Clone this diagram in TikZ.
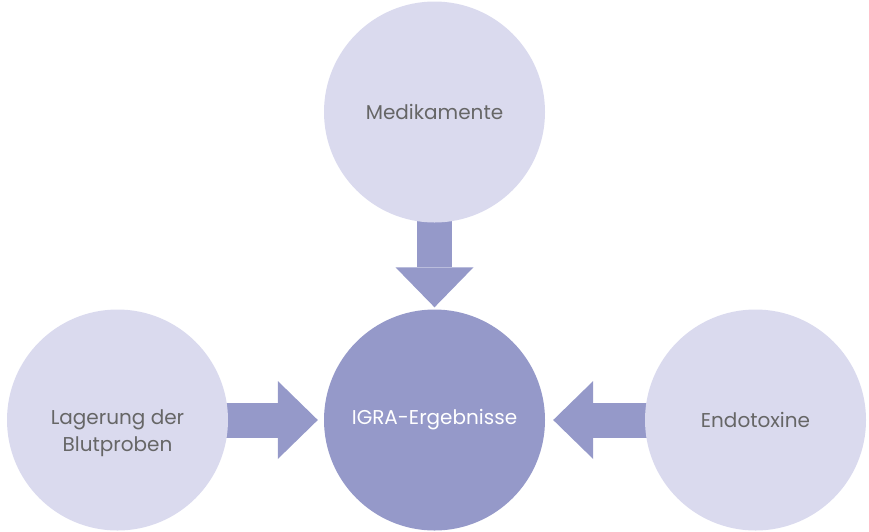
\documentclass[tikz,border=0pt]{standalone}
\usepackage{fontspec}
\setmainfont{Poppins}
\usetikzlibrary{arrows.meta, backgrounds}
\definecolor{paleviolet}{HTML}{DADAEE}
\definecolor{deepviolet}{HTML}{9599C9}
\definecolor{labelgray}{HTML}{666666}

\begin{document}
\begin{tikzpicture}[x=1pt, y=-1pt,
    factor/.style={circle, fill=paleviolet, minimum size=221pt, inner sep=0pt,
        text=labelgray, font=\fontsize{20}{27}\selectfont, align=center},
    result/.style={factor, fill=deepviolet, text=white},
    bigarrow/.style={deepviolet, line width=35pt,
        -{Triangle[length=40pt, width=78pt, line width=0pt]}}]
        % fix the page size
        \useasboundingbox (0,0) rectangle (869,531);

        % Influencing factors and the result
        \node[result] (igra) at (434.5, 420) {IGRA-Ergebnisse};
        \node[factor] (medi) at (434.5, 112) {Medikamente};
        \node[factor] (endo) at (755.5, 420) {Endotoxine};
        \node[factor, label={[text=labelgray, font=\fontsize{20}{27}\selectfont,
            align=center, yshift=-13pt]center:Lagerung der\\Blutproben}]
            (lager) at (117.5, 420) {};

        % Block arrows behind the circles
        \begin{scope}[on background layer]
            \draw[bigarrow, shorten >=2pt] (medi.center) -- (igra.north);
            \draw[bigarrow, shorten >=6pt] (lager.center) -- (igra.west);
            \draw[bigarrow, shorten >=8pt] (endo.center) -- (igra.east);
        \end{scope}
\end{tikzpicture}
\end{document}
